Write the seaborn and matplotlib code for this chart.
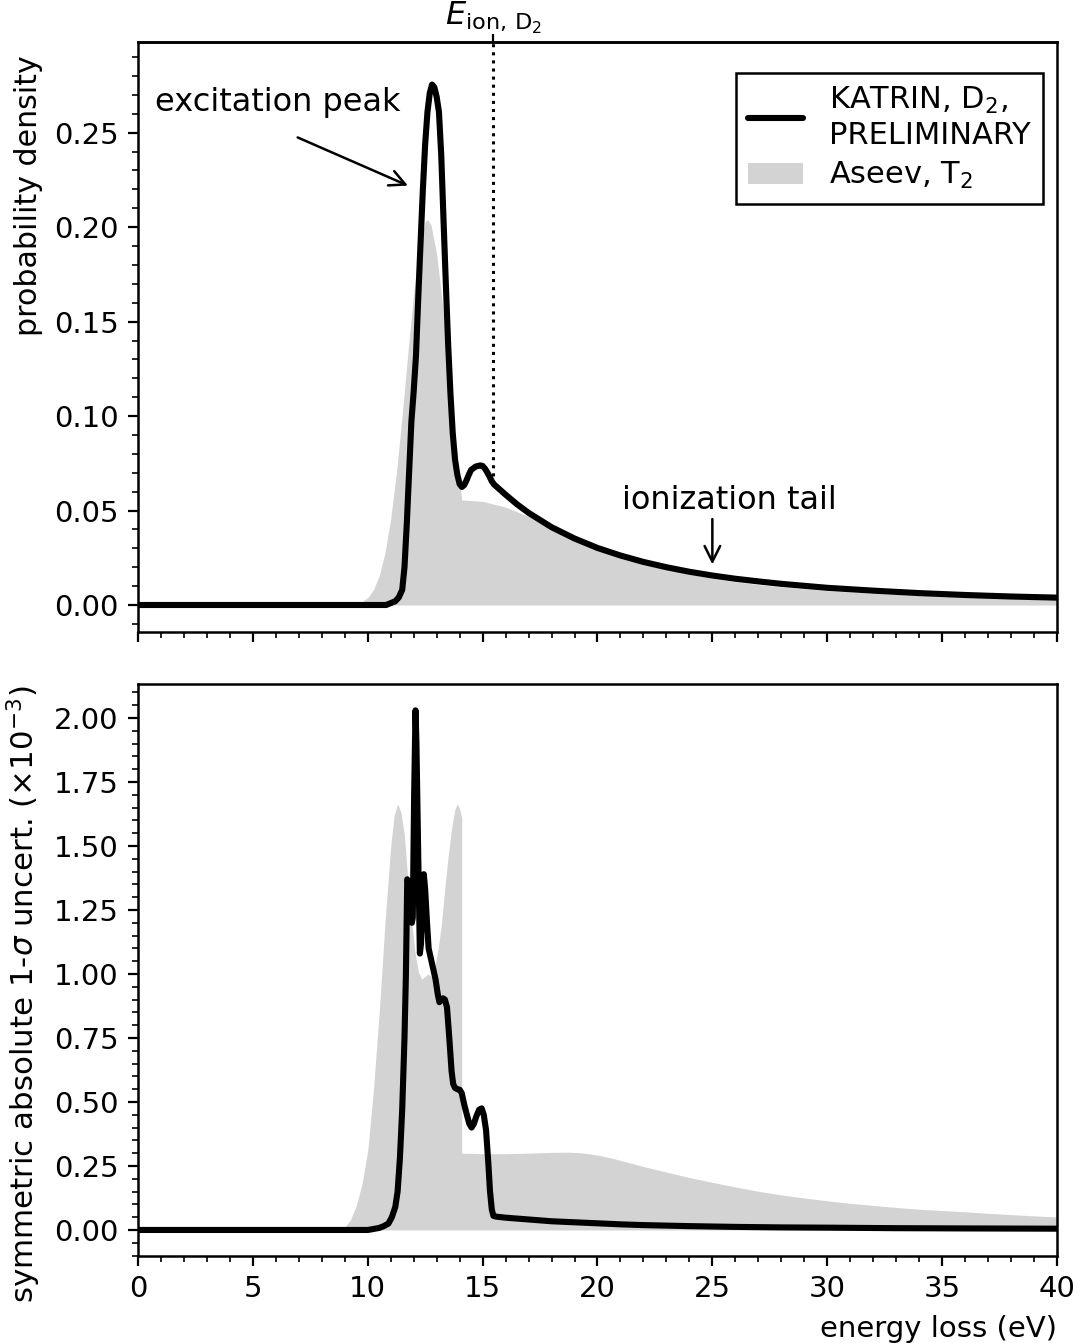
import numpy as np
import pandas as pd
import matplotlib
matplotlib.use("Agg")
import matplotlib.pyplot as plt
import seaborn as sns
from matplotlib.lines import Line2D
from matplotlib.patches import Patch
from matplotlib.ticker import AutoMinorLocator, MultipleLocator, FormatStrFormatter, NullLocator

# ---------------------------------------------------------------- data
# energy-loss function, KATRIN D2 (preliminary)
katrin_E = [0.0, 10.8, 10.9, 11.0, 11.2, 11.35, 11.5, 11.6, 11.7, 11.8, 11.9, 12.0,
            12.1, 12.2, 12.3, 12.4, 12.5, 12.6, 12.7, 12.8, 12.9, 13.0, 13.1, 13.2,
            13.3, 13.4, 13.5, 13.6, 13.7, 13.8, 13.9, 14.0, 14.1, 14.2, 14.3, 14.4,
            14.5, 14.7, 14.9, 15.0, 15.1, 15.2, 15.3, 15.4, 15.5, 16.0, 16.5, 17.0,
            18.0, 19.0, 20.0, 21.0, 22.0, 23.0, 24.0, 25.0, 26.0, 27.0, 28.0, 30.0,
            32.0, 34.0, 36.0, 38.0, 40.0]
katrin_f = [0.0, 0.0, 0.0005, 0.001, 0.002, 0.004, 0.008, 0.02, 0.043, 0.07, 0.097, 0.113,
            0.132, 0.163, 0.192, 0.22, 0.244, 0.261, 0.271, 0.2755, 0.274, 0.269, 0.261, 0.238,
            0.2035, 0.17, 0.138, 0.112, 0.091, 0.077, 0.069, 0.064, 0.0625, 0.0635, 0.066, 0.069,
            0.0715, 0.0733, 0.0739, 0.0736, 0.0722, 0.0703, 0.068, 0.0655, 0.0638, 0.0584, 0.0533, 0.0488,
            0.0412, 0.0352, 0.0302, 0.0262, 0.0228, 0.0200, 0.0176, 0.0156, 0.0139, 0.0125, 0.0112, 0.0091,
            0.0076, 0.0063, 0.0053, 0.0045, 0.0039]

# energy-loss function, Aseev T2
aseev_E = [0.0, 8.5, 8.75, 9.0, 9.25, 9.5, 9.75, 10.0, 10.25, 10.5, 10.75, 11.0, 11.25,
           11.5, 11.75, 12.0, 12.25, 12.5, 12.6, 12.75, 13.0, 13.25, 13.5, 13.75, 14.0,
           14.09, 15.0, 16.0, 17.0, 18.0, 19.0, 20.0, 21.0, 22.0, 23.0, 24.0, 25.0,
           26.0, 27.0, 28.0, 30.0, 32.0, 34.0, 36.0, 38.0, 40.0]
aseev_f = [0.0, 0.00001, 0.00004, 0.0001, 0.0003, 0.0007, 0.0018, 0.0039, 0.0081, 0.0155, 0.0276, 0.0457, 0.0703,
           0.1006, 0.1338, 0.1653, 0.1899, 0.2028, 0.204, 0.2013, 0.1858, 0.1594, 0.1271, 0.0942, 0.0649,
           0.0556, 0.0549, 0.0518, 0.0469, 0.0412, 0.0355, 0.0304, 0.0259, 0.0221, 0.0189, 0.0163, 0.0141,
           0.0123, 0.0108, 0.0096, 0.0076, 0.0062, 0.0051, 0.0043, 0.0036, 0.0031]

# symmetric absolute 1-sigma uncertainty (x 1e-3), KATRIN D2
katrin_unc_E = [0.0, 10.0, 10.2, 10.5, 10.7, 10.9, 11.05, 11.2, 11.3, 11.4, 11.5, 11.6,
                11.66, 11.72, 11.78, 11.85, 11.92, 11.96, 12.02, 12.08, 12.12, 12.2, 12.27, 12.32,
                12.38, 12.44, 12.5, 12.58, 12.65, 12.75, 12.85, 12.95, 13.05, 13.12, 13.2, 13.28,
                13.36, 13.45, 13.55, 13.65, 13.72, 13.8, 13.9, 14.0, 14.09, 14.2, 14.3, 14.42,
                14.52, 14.62, 14.74, 14.85, 14.96, 15.05, 15.15, 15.25, 15.32, 15.4, 15.47, 15.6,
                16.0, 17.0, 18.0, 19.0, 20.0, 21.0, 22.0, 24.0, 26.0, 28.0, 30.0, 33.0, 36.0, 40.0]
katrin_unc = [0.0, 0.0, 0.003, 0.008, 0.015, 0.025, 0.05, 0.09, 0.15, 0.28, 0.47, 0.75,
              0.99, 1.37, 1.36, 1.22, 1.20, 1.22, 1.70, 2.03, 1.90, 1.45, 1.08, 1.12,
              1.32, 1.39, 1.33, 1.20, 1.10, 1.06, 1.02, 0.98, 0.92, 0.89, 0.90, 0.905,
              0.90, 0.87, 0.75, 0.62, 0.57, 0.555, 0.55, 0.548, 0.535, 0.49, 0.455, 0.415,
              0.40, 0.415, 0.447, 0.47, 0.475, 0.45, 0.39, 0.26, 0.153, 0.08, 0.055, 0.052,
              0.048, 0.041, 0.034, 0.030, 0.026, 0.022, 0.019, 0.015, 0.012, 0.010, 0.009, 0.007, 0.006, 0.005]

# symmetric absolute 1-sigma uncertainty (x 1e-3), Aseev T2
aseev_unc_E = [0.0, 8.5, 9.0, 9.25, 9.5, 9.75, 10.0, 10.25, 10.5, 10.75, 11.0, 11.15,
               11.3, 11.45, 11.6, 11.75, 11.9, 12.05, 12.2, 12.35, 12.5, 12.62, 12.75, 12.9,
               13.05, 13.2, 13.35, 13.5, 13.65, 13.8, 13.9, 14.0, 14.09, 14.09, 15.0, 16.0,
               17.0, 18.0, 18.7, 19.2, 19.7, 20.2, 20.7, 21.2, 22.0, 23.0, 24.0, 25.0,
               26.0, 27.0, 28.0, 29.0, 30.0, 31.0, 32.0, 33.0, 34.0, 35.0, 36.0, 37.0,
               38.0, 39.0, 40.0]
aseev_unc = [0.0, 0.0, 0.01, 0.04, 0.095, 0.18, 0.31, 0.55, 0.85, 1.20, 1.50, 1.62,
             1.665, 1.63, 1.54, 1.36, 1.21, 1.09, 1.01, 0.98, 0.99, 1.00, 0.99, 1.02,
             1.09, 1.19, 1.33, 1.46, 1.57, 1.645, 1.665, 1.645, 1.61, 0.30, 0.298, 0.298,
             0.300, 0.303, 0.304, 0.302, 0.297, 0.289, 0.279, 0.267, 0.248, 0.226, 0.205, 0.186,
             0.168, 0.151, 0.137, 0.125, 0.114, 0.104, 0.096, 0.088, 0.081, 0.076, 0.071, 0.065,
             0.060, 0.055, 0.051]

E_ion = 15.47  # ionization threshold of D2 (eV)

x_ticks = [0, 5, 10, 15, 20, 25, 30, 35, 40]
top_yticks = [0.00, 0.05, 0.10, 0.15, 0.20, 0.25]
bottom_yticks = [0.00, 0.25, 0.50, 0.75, 1.00, 1.25, 1.50, 1.75, 2.00]

label_katrin = "KATRIN, D$_2$,\nPRELIMINARY"
label_aseev = "Aseev, T$_2$"

# ---------------------------------------------------------------- style
sns.set_style("ticks")
plt.rcParams.update({
    "font.family": ["DejaVu Sans"],
    "font.size": 10.5,
    "text.color": "black",
    "axes.labelcolor": "black",
    "axes.linewidth": 0.9,
    "axes.edgecolor": "black",
    "xtick.color": "black",
    "ytick.color": "black",
    "xtick.major.size": 3.5,
    "ytick.major.size": 3.5,
    "xtick.minor.size": 2.0,
    "ytick.minor.size": 2.0,
    "xtick.major.width": 0.8,
    "ytick.major.width": 0.8,
    "xtick.minor.width": 0.6,
    "ytick.minor.width": 0.6,
    "mathtext.default": "it",
})

GRAY = "#d3d3d3"
LW = 2.2

df_k = pd.DataFrame({"E": katrin_E, "f": katrin_f})
df_ku = pd.DataFrame({"E": katrin_unc_E, "u": katrin_unc})

fig = plt.figure(figsize=(5.39, 6.715), dpi=200)
ax1 = fig.add_axes([0.128, 0.5294, 0.8525, 0.4393])
ax2 = fig.add_axes([0.128, 0.0648, 0.8525, 0.4259], sharex=ax1)

# ---- top panel: energy-loss functions
ax1.fill_between(aseev_E, 0, aseev_f, color=GRAY, lw=0, zorder=1)
sns.lineplot(data=df_k, x="E", y="f", ax=ax1, color="black", lw=LW,
             estimator=None, zorder=3)
ax1.set_xlim(0, 40)
ax1.set_ylim(-0.0143, 0.298)
ax1.set_yticks(top_yticks)
ax1.yaxis.set_major_formatter(FormatStrFormatter("%.2f"))
ax1.xaxis.set_major_locator(MultipleLocator(5))
ax1.xaxis.set_minor_locator(AutoMinorLocator())
ax1.yaxis.set_minor_locator(AutoMinorLocator())
ax1.tick_params(axis="both", which="both", labelsize=10.5)
ax1.tick_params(axis="x", labelbottom=False)
ax1.set_xlabel("")
ax1.set_ylabel("probability density", fontsize=10.8)
ax1.yaxis.set_label_coords(-0.103, 0.739)

# ionization threshold marker
f_at_ion = np.interp(E_ion, katrin_E, katrin_f)
ax1.plot([E_ion, E_ion], [f_at_ion, ax1.get_ylim()[1]], ls=":", color="black",
         lw=1.1, zorder=2)
sec = ax1.secondary_xaxis("top")
sec.set_xticks([E_ion], labels=[r"$E_{\mathrm{ion,\,D_2}}$"])
sec.tick_params(axis="x", which="major", length=2.8, width=0.8, pad=-0.8,
                labelsize=11.5)
sec.xaxis.set_minor_locator(NullLocator())

# annotations
ax1.text(0.74, 0.266, "excitation peak", fontsize=11.5, va="center", ha="left")
ax1.annotate("", xy=(11.75, 0.222), xytext=(6.95, 0.2475),
             arrowprops=dict(arrowstyle="->", color="black", lw=0.9,
                             shrinkA=0, shrinkB=0, mutation_scale=14))
ax1.text(21.07, 0.0555, "ionization tail", fontsize=11.5, va="center", ha="left")
ax1.annotate("", xy=(25.0, 0.0215), xytext=(25.0, 0.0455),
             arrowprops=dict(arrowstyle="->", color="black", lw=0.9,
                             shrinkA=0, shrinkB=0, mutation_scale=14))

handles = [Line2D([0], [0], color="black", lw=LW),
           Patch(facecolor=GRAY, edgecolor="none")]
leg = ax1.legend(handles, [label_katrin, label_aseev], loc="upper right",
                 bbox_to_anchor=(0.985, 0.948), borderaxespad=0,
                 fancybox=False, framealpha=1, edgecolor="black",
                 fontsize=11, handlelength=1.8, handletextpad=0.85,
                 labelspacing=0.35, borderpad=0.4)
leg.get_frame().set_linewidth(0.9)

# ---- bottom panel: uncertainties
ax2.fill_between(aseev_unc_E, 0, aseev_unc, color=GRAY, lw=0, zorder=1)
sns.lineplot(data=df_ku, x="E", y="u", ax=ax2, color="black", lw=LW,
             estimator=None, zorder=3)
ax2.set_xlim(0, 40)
ax2.set_ylim(-0.1016, 2.133)
ax2.set_xticks(x_ticks)
ax2.set_yticks(bottom_yticks)
ax2.yaxis.set_major_formatter(FormatStrFormatter("%.2f"))
ax2.xaxis.set_minor_locator(AutoMinorLocator())
ax2.yaxis.set_minor_locator(AutoMinorLocator())
ax2.tick_params(axis="both", which="both", labelsize=10.5)
ax2.set_xlabel("energy loss (eV)", loc="right", fontsize=10.5)
ax2.set_ylabel(r"symmetric absolute 1-$\sigma$ uncert. ($\times 10^{-3}$)",
               fontsize=11.1)
ax2.yaxis.set_label_coords(-0.103, 0.458)

for ax in (ax1, ax2):
    for s in ax.spines.values():
        s.set_visible(True)
        s.set_linewidth(0.9)

fig.savefig("out.png", dpi=200)
